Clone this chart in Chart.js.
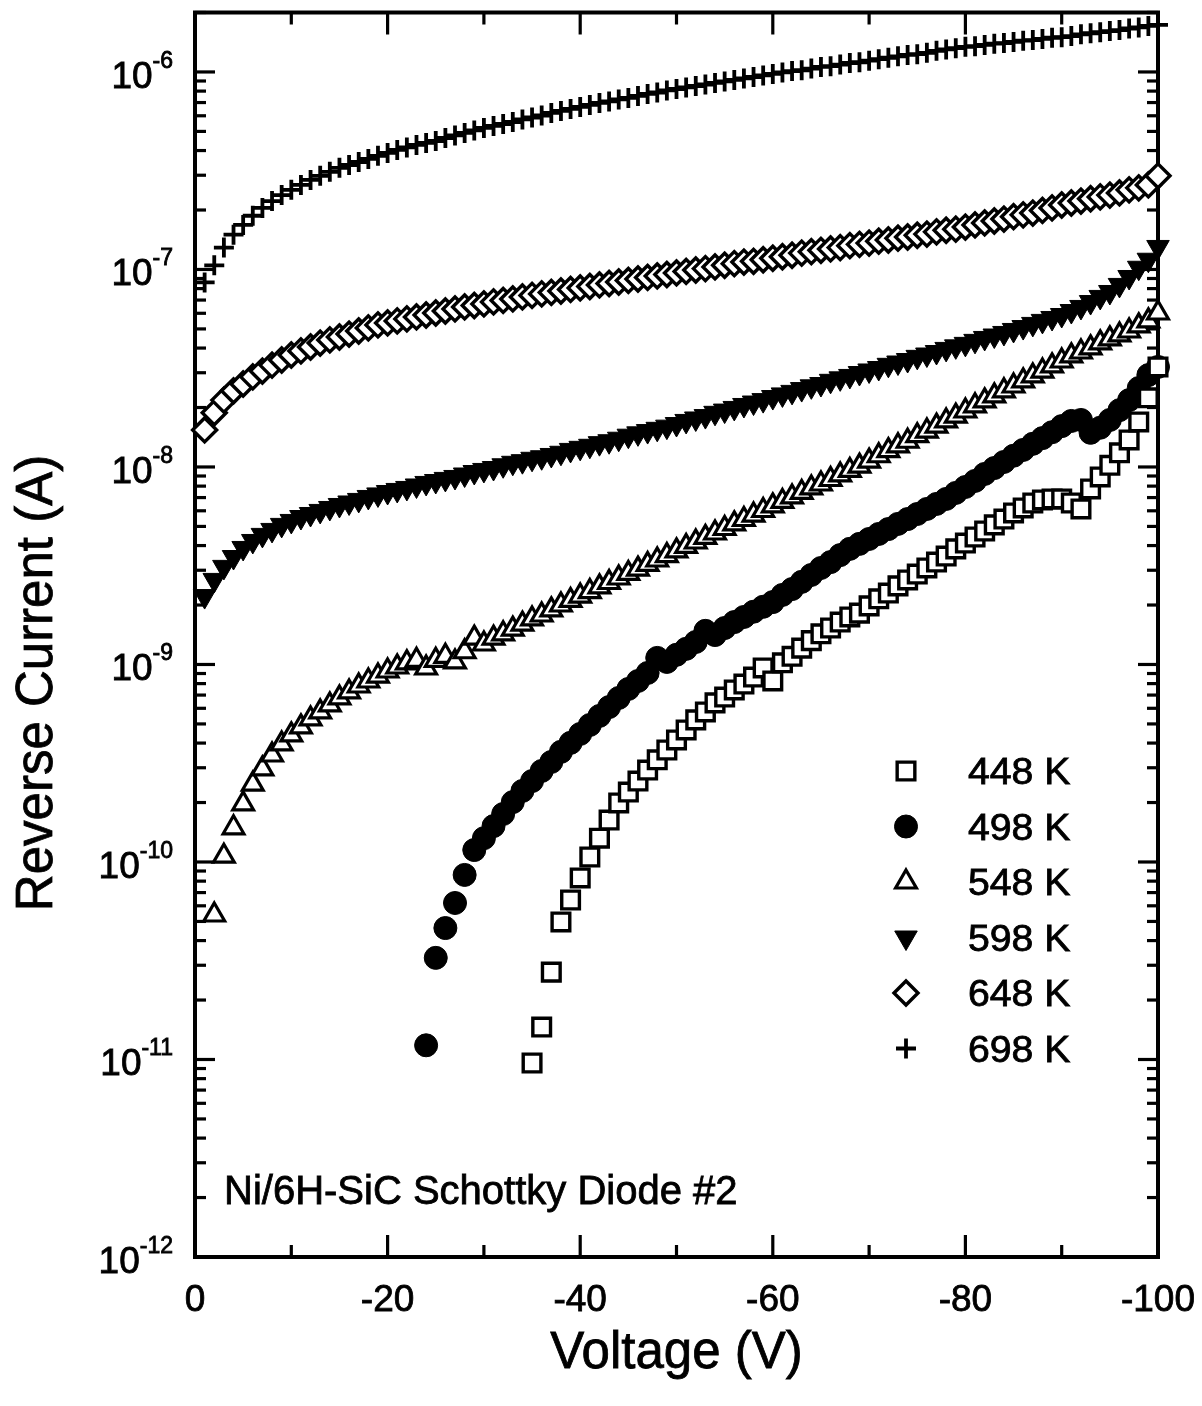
<!DOCTYPE html>
<html><head><meta charset="utf-8">
<script src="https://cdn.jsdelivr.net/npm/chart.js@4.4.1/dist/chart.umd.min.js"></script>
<style>html,body{margin:0;padding:0;background:#fff;}canvas{display:block;}</style>
</head><body>
<canvas id="c" width="1202" height="1406"></canvas>
<script>
// ---------------- data ----------------
const voltage = [-1,-2,-3,-4,-5,-6,-7,-8,-9,-10,-11,-12,-13,-14,-15,-16,-17,-18,-19,-20,-21,-22,-23,-24,-25,-26,-27,-28,-29,-30,-31,-32,-33,-34,-35,-36,-37,-38,-39,-40,-41,-42,-43,-44,-45,-46,-47,-48,-49,-50,-51,-52,-53,-54,-55,-56,-57,-58,-59,-60,-61,-62,-63,-64,-65,-66,-67,-68,-69,-70,-71,-72,-73,-74,-75,-76,-77,-78,-79,-80,-81,-82,-83,-84,-85,-86,-87,-88,-89,-90,-91,-92,-93,-94,-95,-96,-97,-98,-99,-100];

const current448K = [
null,null,null,null,null,null,null,null,null,null,
null,null,null,null,null,null,null,null,null,null,
null,null,null,null,null,null,null,null,null,null,
null,null,null,null,
9.60e-12,1.46e-11,2.77e-11,4.97e-11,6.42e-11,8.30e-11,
1.06e-10,1.32e-10,1.63e-10,1.99e-10,2.26e-10,2.57e-10,2.92e-10,3.29e-10,3.69e-10,4.15e-10,
4.66e-10,5.24e-10,5.75e-10,6.39e-10,6.84e-10,7.43e-10,7.96e-10,8.64e-10,9.60e-10,8.25e-10,
1.02e-9,1.10e-9,1.21e-9,1.32e-9,1.43e-9,1.53e-9,1.64e-9,1.74e-9,1.82e-9,1.98e-9,
2.15e-9,2.30e-9,2.50e-9,2.68e-9,2.87e-9,3.08e-9,3.30e-9,3.54e-9,3.85e-9,4.12e-9,
4.42e-9,4.74e-9,5.09e-9,5.45e-9,5.85e-9,6.20e-9,6.57e-9,6.81e-9,6.89e-9,6.89e-9,
6.57e-9,6.13e-9,7.74e-9,8.90e-9,1.02e-8,1.18e-8,1.37e-8,1.69e-8,2.24e-8,3.21e-8];

const current498K = [
null,null,null,null,null,null,null,null,null,null,
null,null,null,null,null,null,null,null,null,null,
null,null,null,
1.18e-11,3.27e-11,4.63e-11,6.20e-11,8.60e-11,1.15e-10,1.32e-10,
1.52e-10,1.75e-10,2.01e-10,2.29e-10,2.57e-10,2.89e-10,3.21e-10,3.61e-10,4.01e-10,4.45e-10,
4.94e-10,5.49e-10,6.09e-10,6.77e-10,7.52e-10,8.25e-10,9.06e-10,1.08e-9,1.03e-9,1.12e-9,
1.20e-9,1.30e-9,1.48e-9,1.41e-9,1.53e-9,1.64e-9,1.74e-9,1.85e-9,1.96e-9,2.07e-9,
2.25e-9,2.41e-9,2.62e-9,2.84e-9,3.08e-9,3.30e-9,3.58e-9,3.85e-9,4.08e-9,4.32e-9,
4.58e-9,4.85e-9,5.15e-9,5.45e-9,5.78e-9,6.13e-9,6.50e-9,6.89e-9,7.39e-9,7.92e-9,
8.50e-9,9.22e-9,9.88e-9,1.06e-8,1.14e-8,1.22e-8,1.31e-8,1.40e-8,1.50e-8,1.61e-8,
1.71e-8,1.73e-8,1.49e-8,1.58e-8,1.73e-8,1.94e-8,2.18e-8,2.51e-8,2.92e-8,3.21e-8];

const current548K = [
null,
5.39e-11,1.07e-10,1.49e-10,1.97e-10,2.48e-10,2.96e-10,3.48e-10,3.96e-10,4.40e-10,
4.83e-10,5.30e-10,5.75e-10,6.24e-10,6.77e-10,7.26e-10,7.78e-10,8.25e-10,8.74e-10,9.27e-10,
9.71e-10,1.02e-9,1.05e-9,9.60e-10,1.05e-9,1.10e-9,1.03e-9,1.16e-9,1.36e-9,1.27e-9,
1.36e-9,1.43e-9,1.51e-9,1.60e-9,1.70e-9,1.78e-9,1.89e-9,2.00e-9,2.11e-9,2.22e-9,
2.34e-9,2.47e-9,2.60e-9,2.74e-9,2.89e-9,3.04e-9,3.21e-9,3.38e-9,3.56e-9,3.76e-9,
3.96e-9,4.17e-9,4.40e-9,4.63e-9,4.88e-9,5.15e-9,5.42e-9,5.71e-9,6.02e-9,6.35e-9,
6.69e-9,7.05e-9,7.43e-9,7.83e-9,8.20e-9,8.64e-9,9.11e-9,9.60e-9,1.01e-8,1.07e-8,
1.14e-8,1.21e-8,1.28e-8,1.35e-8,1.44e-8,1.52e-8,1.61e-8,1.71e-8,1.81e-8,1.92e-8,
2.04e-8,2.16e-8,2.29e-8,2.43e-8,2.57e-8,2.73e-8,2.89e-8,3.06e-8,3.25e-8,3.44e-8,
3.65e-8,3.82e-8,4.01e-8,4.25e-8,4.45e-8,4.66e-8,4.88e-8,5.18e-8,5.49e-8,6.02e-8];

const current598K = [
2.22e-9,2.68e-9,3.12e-9,3.50e-9,3.89e-9,4.22e-9,4.53e-9,4.80e-9,5.09e-9,5.33e-9,
5.58e-9,5.78e-9,5.99e-9,6.20e-9,6.42e-9,6.61e-9,6.81e-9,7.05e-9,7.26e-9,7.47e-9,
7.65e-9,7.83e-9,8.06e-9,8.30e-9,8.49e-9,8.70e-9,8.90e-9,9.16e-9,9.43e-9,9.66e-9,
9.88e-9,1.02e-8,1.05e-8,1.07e-8,1.10e-8,1.12e-8,1.15e-8,1.18e-8,1.22e-8,1.25e-8,
1.28e-8,1.32e-8,1.35e-8,1.39e-8,1.44e-8,1.48e-8,1.52e-8,1.56e-8,1.60e-8,1.65e-8,
1.71e-8,1.76e-8,1.81e-8,1.88e-8,1.93e-8,1.99e-8,2.06e-8,2.12e-8,2.18e-8,2.26e-8,
2.33e-8,2.40e-8,2.48e-8,2.56e-8,2.63e-8,2.73e-8,2.81e-8,2.89e-8,2.99e-8,3.08e-8,
3.17e-8,3.29e-8,3.38e-8,3.48e-8,3.61e-8,3.71e-8,3.82e-8,3.96e-8,4.08e-8,4.20e-8,
4.35e-8,4.50e-8,4.63e-8,4.77e-8,4.94e-8,5.11e-8,5.30e-8,5.49e-8,5.68e-8,5.88e-8,
6.16e-8,6.46e-8,6.84e-8,7.26e-8,7.69e-8,8.35e-8,9.16e-8,1.02e-7,1.12e-7,1.30e-7];

const current648K = [
1.54e-8,1.88e-8,2.18e-8,2.43e-8,2.63e-8,2.86e-8,3.06e-8,3.28e-8,3.48e-8,3.69e-8,
3.87e-8,4.05e-8,4.24e-8,4.40e-8,4.55e-8,4.71e-8,4.88e-8,5.06e-8,5.24e-8,5.36e-8,
5.49e-8,5.62e-8,5.75e-8,5.88e-8,6.02e-8,6.16e-8,6.31e-8,6.46e-8,6.57e-8,6.69e-8,
6.85e-8,6.97e-8,7.09e-8,7.26e-8,7.39e-8,7.52e-8,7.65e-8,7.78e-8,7.92e-8,8.06e-8,
8.20e-8,8.35e-8,8.49e-8,8.64e-8,8.80e-8,8.95e-8,9.11e-8,9.27e-8,9.43e-8,9.60e-8,
9.77e-8,9.94e-8,1.01e-7,1.03e-7,1.05e-7,1.07e-7,1.09e-7,1.10e-7,1.12e-7,1.14e-7,
1.16e-7,1.18e-7,1.21e-7,1.23e-7,1.25e-7,1.27e-7,1.29e-7,1.32e-7,1.34e-7,1.36e-7,
1.39e-7,1.41e-7,1.44e-7,1.46e-7,1.49e-7,1.51e-7,1.55e-7,1.58e-7,1.60e-7,1.64e-7,
1.68e-7,1.72e-7,1.76e-7,1.80e-7,1.85e-7,1.89e-7,1.93e-7,1.99e-7,2.05e-7,2.12e-7,
2.17e-7,2.22e-7,2.28e-7,2.33e-7,2.38e-7,2.44e-7,2.53e-7,2.59e-7,2.68e-7,2.98e-7];

const current698K = [
8.6e-8,1.05e-7,1.29e-7,1.50e-7,1.68e-7,1.87e-7,2.05e-7,2.22e-7,2.38e-7,2.53e-7,
2.68e-7,2.84e-7,2.98e-7,3.12e-7,3.27e-7,3.38e-7,3.50e-7,3.63e-7,3.76e-7,3.89e-7,
4.03e-7,4.15e-7,4.27e-7,4.37e-7,4.47e-7,4.63e-7,4.77e-7,4.91e-7,5.06e-7,5.21e-7,
5.33e-7,5.45e-7,5.58e-7,5.75e-7,5.88e-7,6.02e-7,6.20e-7,6.35e-7,6.50e-7,6.65e-7,
6.81e-7,6.97e-7,7.09e-7,7.26e-7,7.39e-7,7.56e-7,7.74e-7,7.87e-7,8.06e-7,8.20e-7,
8.35e-7,8.49e-7,8.64e-7,8.80e-7,8.95e-7,9.11e-7,9.27e-7,9.43e-7,9.60e-7,9.77e-7,
9.94e-7,1.01e-6,1.02e-6,1.04e-6,1.06e-6,1.07e-6,1.09e-6,1.11e-6,1.12e-6,1.14e-6,
1.16e-6,1.18e-6,1.20e-6,1.22e-6,1.23e-6,1.25e-6,1.28e-6,1.30e-6,1.32e-6,1.34e-6,
1.35e-6,1.37e-6,1.39e-6,1.40e-6,1.42e-6,1.44e-6,1.45e-6,1.47e-6,1.49e-6,1.50e-6,
1.52e-6,1.55e-6,1.57e-6,1.59e-6,1.61e-6,1.63e-6,1.66e-6,1.68e-6,1.71e-6,1.73e-6];

const seriesLabels = ['448 K','498 K','548 K','598 K','648 K','698 K'];
const xMajorTicks = [0,-20,-40,-60,-80,-100];
const xMinorTicks = [-10,-30,-50,-70,-90];
const xTickLabels = ['0','-20','-40','-60','-80','-100'];
const yDecadeExponents = [-12,-11,-10,-9,-8,-7,-6];
const xTitle = 'Voltage (V)';
const yTitle = 'Reverse Current (A)';
const annotationText = 'Ni/6H-SiC Schottky Diode #2';

// ---------------- chart ----------------
const FONT = '"Liberation Sans", Arial, Helvetica, sans-serif';
const toPoints = arr => voltage.map((v, i) => ({x: v, y: arr[i]})).filter(p => p.y !== null);

const markerStyles = [
  {pointStyle: 'rect',     radius: 12.5, rotation: 0,   borderWidth: 3.4, fill: '#fff'},
  {pointStyle: 'circle',   radius: 11.5, rotation: 0,   borderWidth: 1,   fill: '#000'},
  {pointStyle: 'triangle', radius: 12,   rotation: 0,   borderWidth: 3.2, fill: '#fff'},
  {pointStyle: 'triangle', radius: 13,   rotation: 180, borderWidth: 1,   fill: '#000'},
  {pointStyle: 'rectRot',  radius: 12,   rotation: 0,   borderWidth: 3.4, fill: '#fff'},
  {pointStyle: 'cross',    radius: 10,   rotation: 0,   borderWidth: 3.8, fill: '#000'}
];
const seriesData = [current448K, current498K, current548K, current598K, current648K, current698K];

const datasets = seriesData.map((arr, i) => ({
  label: seriesLabels[i],
  data: toPoints(arr),
  pointStyle: markerStyles[i].pointStyle,
  pointRadius: markerStyles[i].radius,
  pointHoverRadius: markerStyles[i].radius,
  pointRotation: markerStyles[i].rotation,
  pointBorderWidth: markerStyles[i].borderWidth,
  pointBorderColor: '#000',
  pointBackgroundColor: markerStyles[i].fill,
  showLine: false,
  clip: false
}));

function drawMarker(ctx, st, x, y) {
  ctx.save();
  ctx.lineWidth = st.borderWidth;
  ctx.strokeStyle = '#000';
  ctx.fillStyle = st.fill;
  if (Chart.helpers && Chart.helpers.drawPoint) {
    Chart.helpers.drawPoint(ctx, {pointStyle: st.pointStyle, radius: st.radius, rotation: st.rotation, borderWidth: st.borderWidth}, x, y);
  }
  ctx.restore();
}

// text with a faint outline to match the heavier scanned lettering
function inkText(ctx, txt, x, y) {
  ctx.fillText(txt, x, y);
  ctx.lineWidth = 0.8;
  ctx.strokeStyle = '#000';
  ctx.strokeText(txt, x, y);
}

const framePlugin = {
  id: 'frame',
  beforeDatasetsDraw(chart) {
    const {ctx, chartArea: a, scales: {x, y}} = chart;
    ctx.save();
    ctx.strokeStyle = '#000';
    ctx.lineCap = 'butt';
    ctx.lineWidth = 4;
    ctx.strokeRect(a.left, a.top, a.right - a.left, a.bottom - a.top);
    ctx.lineWidth = 3.2;
    const seg = (x1, y1, x2, y2) => { ctx.beginPath(); ctx.moveTo(x1, y1); ctx.lineTo(x2, y2); ctx.stroke(); };
    xMajorTicks.forEach(v => { const p = x.getPixelForValue(v); seg(p, a.bottom, p, a.bottom - 22); seg(p, a.top, p, a.top + 22); });
    xMinorTicks.forEach(v => { const p = x.getPixelForValue(v); seg(p, a.bottom, p, a.bottom - 12); seg(p, a.top, p, a.top + 12); });
    yDecadeExponents.forEach(e => {
      const base = Math.pow(10, e);
      const p = y.getPixelForValue(base);
      seg(a.left, p, a.left + 20, p); seg(a.right, p, a.right - 20, p);
      for (let k = 2; k <= 9; k++) {
        const v = k * base;
        if (v > y.max * 1.0001) break;
        const q = y.getPixelForValue(v);
        seg(a.left, q, a.left + 11, q); seg(a.right, q, a.right - 11, q);
      }
    });
    ctx.restore();
  },
  afterDraw(chart) {
    const {ctx, chartArea: a, scales: {x, y}} = chart;
    ctx.save();
    ctx.fillStyle = '#000';
    // x tick labels
    ctx.font = `37px ${FONT}`;
    ctx.textAlign = 'center';
    ctx.textBaseline = 'alphabetic';
    xMajorTicks.forEach((v, i) => inkText(ctx, xTickLabels[i], x.getPixelForValue(v), a.bottom + 54));
    // y tick labels 10^n
    yDecadeExponents.forEach(e => {
      const p = y.getPixelForValue(Math.pow(10, e));
      const expText = String(e);
      ctx.font = `23px ${FONT}`;
      ctx.textAlign = 'right';
      const expRight = a.left - 22;
      const w = ctx.measureText(expText).width;
      inkText(ctx, expText, expRight, p - 4);
      ctx.font = `37px ${FONT}`;
      inkText(ctx, '10', expRight - w, p + 16);
    });
    // axis titles
    ctx.font = `51px ${FONT}`;
    ctx.textAlign = 'center';
    inkText(ctx, xTitle, (a.left + a.right) / 2, 1368);
    ctx.save();
    ctx.translate(52, 683);
    ctx.rotate(-Math.PI / 2);
    inkText(ctx, yTitle, 0, 0);
    ctx.restore();
    // annotation
    ctx.font = `40px ${FONT}`;
    ctx.textAlign = 'left';
    inkText(ctx, annotationText, 224, 1204);
    // legend
    seriesLabels.forEach((lab, i) => {
      const cy = 771 + i * 55.5;
      drawMarker(ctx, markerStyles[i], 906, cy);
      ctx.save();
      ctx.translate(968, cy + 13);
      ctx.scale(1.06, 1);
      ctx.font = `37px ${FONT}`;
      ctx.fillStyle = '#000';
      ctx.textAlign = 'left';
      inkText(ctx, lab, 0, 0);
      ctx.restore();
    });
    ctx.restore();
  }
};

new Chart(document.getElementById('c'), {
  type: 'scatter',
  data: {datasets},
  options: {
    responsive: false,
    maintainAspectRatio: false,
    devicePixelRatio: 1,
    animation: false,
    events: [],
    layout: {autoPadding: false, padding: {top: 12.5, right: 44, bottom: 0, left: 0}},
    plugins: {legend: {display: false}, tooltip: {enabled: false}, title: {display: false}},
    scales: {
      x: {
        type: 'linear', min: -100, max: 0, reverse: true,
        grid: {display: false, drawTicks: false}, border: {display: false},
        ticks: {display: false},
        afterFit(s) { s.height = 149; }
      },
      y: {
        type: 'logarithmic', min: 1e-12, max: 2e-6,
        grid: {display: false, drawTicks: false}, border: {display: false},
        ticks: {display: false},
        afterFit(s) { s.width = 195; }
      }
    }
  },
  plugins: [framePlugin]
});
</script>
</body></html>
